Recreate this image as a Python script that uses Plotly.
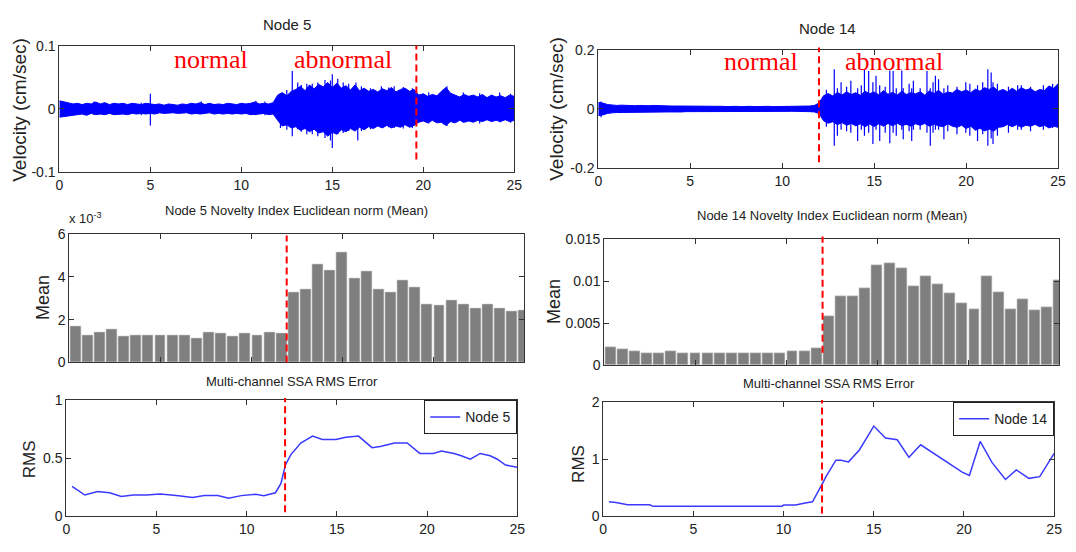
import plotly.graph_objects as go
import numpy as np

W, H = 1076, 552
SANS = "Liberation Sans, Arial, sans-serif"
SERIF = "Liberation Serif, Times New Roman, serif"

# ---------------- data ----------------
# velocity envelopes (cm/sec), sampled every 0.25 s from 0 to 25 s
VEL_STEP = 0.25
n5_upper = [0.013, 0.011, 0.010, 0.008, 0.009, 0.007, 0.009, 0.008, 0.011, 0.008,
            0.010, 0.007, 0.009, 0.008, 0.009, 0.007, 0.009, 0.008, 0.007, 0.009,
            0.008, 0.007, 0.008, 0.006, 0.008, 0.007, 0.006, 0.008, 0.007, 0.009,
            0.008, 0.010, 0.007, 0.009, 0.007, 0.008, 0.007, 0.009, 0.008, 0.007,
            0.009, 0.008, 0.009, 0.011, 0.008, 0.009, 0.008, 0.010,
            0.022, 0.026,
            0.021, 0.028, 0.031, 0.036, 0.029, 0.038, 0.032, 0.039, 0.035, 0.042,
            0.034, 0.041, 0.033, 0.037, 0.030, 0.038, 0.029, 0.033, 0.028, 0.031,
            0.027, 0.032, 0.029, 0.034, 0.027, 0.031, 0.033, 0.028, 0.031, 0.022,
            0.024, 0.020, 0.023, 0.021, 0.028, 0.034, 0.025, 0.022, 0.019, 0.023,
            0.020, 0.022, 0.019, 0.023, 0.018, 0.022, 0.019, 0.021, 0.018, 0.022,
            0.020]
n5_lower = [-0.013, -0.011, -0.011, -0.009, -0.009, -0.008, -0.010, -0.007, -0.009, -0.008,
            -0.009, -0.007, -0.009, -0.008, -0.008, -0.009, -0.007, -0.008, -0.007, -0.008,
            -0.007, -0.008, -0.006, -0.007, -0.007, -0.006, -0.007, -0.007, -0.006, -0.008,
            -0.007, -0.008, -0.007, -0.006, -0.008, -0.007, -0.008, -0.007, -0.008, -0.007,
            -0.008, -0.007, -0.009, -0.008, -0.008, -0.007, -0.009, -0.008,
            -0.018, -0.027,
            -0.025, -0.030, -0.028, -0.034, -0.031, -0.036, -0.032, -0.038, -0.036, -0.043,
            -0.037, -0.040, -0.033, -0.036, -0.031, -0.035, -0.029, -0.033, -0.028, -0.031,
            -0.027, -0.030, -0.026, -0.030, -0.027, -0.029, -0.025, -0.029, -0.026, -0.021,
            -0.019, -0.022, -0.018, -0.022, -0.021, -0.026, -0.020, -0.022, -0.018, -0.021,
            -0.019, -0.021, -0.018, -0.020, -0.017, -0.020, -0.018, -0.020, -0.017, -0.020,
            -0.018]
n5_spike_t = [1.9, 4.5, 5.0, 7.8, 10.8, 11.3, 12.15, 12.5, 12.8, 13.1, 13.3, 13.6, 13.9, 14.2,
              14.6, 14.9, 15.0, 15.3, 15.6, 15.9, 16.3, 16.4, 16.6, 17.1, 17.7, 18.1, 18.4,
              18.9, 19.4, 20.3, 21.1, 21.3, 22.2, 23.1, 24.2, 24.8]
n5_spike_hi = [0.012, 0.010, 0.024, 0.012, 0.013, 0.012, 0.024, 0.030, 0.060, 0.042, 0.038, 0.040,
               0.040, 0.042, 0.046, 0.045, 0.055, 0.048, 0.042, 0.040, 0.042, 0.030, 0.036,
               0.033, 0.036, 0.034, 0.036, 0.035, 0.033, 0.026, 0.030, 0.036, 0.026, 0.025,
               0.026, 0.024]
n5_spike_lo = [-0.009, -0.010, -0.026, -0.008, -0.010, -0.010, -0.030, -0.033, -0.043, -0.032,
               -0.036, -0.040, -0.040, -0.043, -0.046, -0.050, -0.062, -0.040, -0.038, -0.035,
               -0.030, -0.050, -0.035, -0.032, -0.030, -0.029, -0.030, -0.031, -0.030, -0.023,
               -0.024, -0.027, -0.022, -0.023, -0.021, -0.022]

n14_upper = [0.022, 0.020, 0.015, 0.013, 0.012, 0.013, 0.012, 0.012, 0.011, 0.012,
             0.011, 0.011, 0.012, 0.011, 0.010, 0.011, 0.010, 0.010, 0.010, 0.011,
             0.010, 0.009, 0.010, 0.009, 0.009, 0.010, 0.009, 0.009, 0.008, 0.009,
             0.009, 0.008, 0.009, 0.009, 0.008, 0.009, 0.008, 0.009, 0.008, 0.008,
             0.009, 0.008, 0.009, 0.008, 0.009, 0.010, 0.010, 0.012,
             0.020, 0.045,
             0.052, 0.044, 0.056, 0.047, 0.058, 0.049, 0.055, 0.046, 0.060, 0.052,
             0.057, 0.048, 0.062, 0.050, 0.056, 0.047, 0.060, 0.049, 0.055, 0.051,
             0.058, 0.047, 0.061, 0.052, 0.063, 0.050, 0.057, 0.054, 0.066, 0.058,
             0.064, 0.055, 0.067, 0.060, 0.072, 0.066, 0.074, 0.060, 0.066, 0.058,
             0.070, 0.060, 0.072, 0.064, 0.069, 0.058, 0.066, 0.062, 0.078, 0.070,
             0.085]
n14_lower = [-0.022, -0.020, -0.015, -0.013, -0.012, -0.012, -0.012, -0.011, -0.011, -0.011,
             -0.011, -0.010, -0.011, -0.010, -0.010, -0.010, -0.010, -0.009, -0.010, -0.009,
             -0.009, -0.009, -0.009, -0.008, -0.009, -0.008, -0.008, -0.009, -0.008, -0.008,
             -0.008, -0.008, -0.008, -0.008, -0.007, -0.008, -0.008, -0.008, -0.007, -0.008,
             -0.008, -0.008, -0.008, -0.008, -0.008, -0.008, -0.009, -0.010,
             -0.015, -0.040,
             -0.048, -0.043, -0.053, -0.046, -0.055, -0.049, -0.057, -0.050, -0.060, -0.051,
             -0.059, -0.050, -0.058, -0.049, -0.057, -0.048, -0.056, -0.052, -0.058, -0.050,
             -0.055, -0.049, -0.058, -0.051, -0.057, -0.060, -0.050, -0.058, -0.062, -0.055,
             -0.066, -0.058, -0.072, -0.065, -0.074, -0.068, -0.075, -0.062, -0.060, -0.052,
             -0.060, -0.053, -0.062, -0.055, -0.058, -0.052, -0.060, -0.055, -0.064, -0.058,
             -0.062]
n14_spike_t = [0.15, 12.4, 12.83, 13.0, 13.2, 13.5, 13.73, 14.1, 14.3, 14.47, 14.7, 14.93, 15.1,
               15.3, 15.6, 15.85, 16.03, 16.2, 16.5, 16.58, 16.9, 17.04, 17.13, 17.5, 17.87,
               18.05, 18.2, 18.33, 18.5, 18.79, 19.0, 19.5, 19.98, 20.2, 20.62, 20.9, 21.18,
               21.36, 21.46, 21.7, 22.3, 22.8, 23.0, 23.5, 24.2, 24.7]
n14_spike_hi = [0.025, 0.065, 0.134, 0.070, 0.090, 0.075, 0.095, 0.070, 0.080, 0.134, 0.128,
                0.090, 0.112, 0.080, 0.075, 0.130, 0.128, 0.070, 0.130, 0.070, 0.085, 0.070,
                0.095, 0.070, 0.128, 0.070, 0.090, 0.112, 0.100, 0.070, 0.080, 0.075, 0.090,
                0.085, 0.080, 0.090, 0.134, 0.123, 0.090, 0.085, 0.075, 0.080, 0.080, 0.075,
                0.080, 0.085]
n14_spike_lo = [-0.028, -0.060, -0.124, -0.090, -0.070, -0.075, -0.080, -0.108, -0.070, -0.090,
                -0.080, -0.118, -0.070, -0.108, -0.080, -0.116, -0.080, -0.090, -0.070, -0.102,
                -0.075, -0.108, -0.070, -0.070, -0.080, -0.124, -0.080, -0.070, -0.070, -0.102,
                -0.075, -0.085, -0.080, -0.090, -0.108, -0.085, -0.124, -0.100, -0.118, -0.090,
                -0.080, -0.070, -0.070, -0.075, -0.070, -0.064]

# novelty index (mean), one bar per 2/3 s window
BAR_STEP = 2.0 / 3.0
n5_mean_e3 = [1.71, 1.28, 1.43, 1.56, 1.21, 1.28, 1.28, 1.28, 1.28, 1.28, 1.15, 1.43, 1.37,
              1.21, 1.36, 1.28, 1.43, 1.37,
              3.29, 3.41, 4.61, 4.33, 5.16, 3.93, 4.25, 3.41, 3.29, 3.83, 3.50, 2.73, 2.66,
              2.93, 2.73, 2.52, 2.73, 2.52, 2.38, 2.45]   # x 10^-3
n14_mean = [0.0022, 0.0019, 0.0017, 0.0015, 0.0015, 0.0017, 0.0015, 0.0015, 0.0015, 0.0015,
            0.0015, 0.0015, 0.0015, 0.0015, 0.0015, 0.0017, 0.0017, 0.0020,
            0.0059, 0.0082, 0.0082, 0.0092, 0.0119, 0.0121, 0.0116, 0.0094, 0.0106, 0.0096,
            0.0086, 0.0074, 0.0067, 0.0106, 0.0087, 0.0067, 0.0079, 0.0066, 0.0069, 0.0101]

# multi-channel SSA RMS error
rms5_t = [0.32, 1.03, 1.73, 2.4, 3.05, 3.7, 4.45, 5.2, 6.1, 7.0, 7.65, 8.4, 9.0, 9.7, 10.5,
          10.95, 11.6, 11.9, 12.15, 12.45, 13.0, 13.65, 14.2, 14.95, 15.5, 16.2, 16.95, 17.4,
          18.2, 18.9, 19.6, 20.35, 20.8, 21.5, 21.9, 22.4, 22.95, 23.5, 23.9, 24.35, 25.0]
rms5 = [0.256, 0.18, 0.21, 0.2, 0.167, 0.18, 0.18, 0.19, 0.175, 0.158, 0.175, 0.175, 0.153,
        0.175, 0.186, 0.175, 0.2, 0.28, 0.44, 0.53, 0.63, 0.69, 0.66, 0.66, 0.68, 0.69, 0.59,
        0.6, 0.63, 0.63, 0.54, 0.54, 0.56, 0.54, 0.52, 0.49, 0.54, 0.52, 0.49, 0.44, 0.42]
rms14_t = [0.32, 0.7, 1.35, 2.58, 2.76, 9.9, 10.0, 10.66, 11.2, 11.6, 12.16, 12.35, 12.9, 13.2,
           13.6, 14.2, 15.0, 15.65, 16.3, 16.95, 17.6, 19.9, 20.3, 20.9, 21.55, 22.3, 22.9,
           23.6, 24.2, 25.0]
rms14 = [0.246, 0.235, 0.196, 0.196, 0.168, 0.168, 0.19, 0.19, 0.224, 0.246, 0.57, 0.69, 0.98,
         0.98, 0.95, 1.16, 1.58, 1.37, 1.34, 1.03, 1.25, 0.77, 0.71, 1.31, 0.94, 0.64, 0.81,
         0.66, 0.69, 1.1]

# change markers (s)
mark_tl, mark_tr, mark_ml, mark_mr, mark_bl, mark_br = 19.62, 12.0, 11.95, 12.0, 12.13, 12.13

x_ticks = [0, 5, 10, 15, 20, 25]

# ---------------- layout geometry (pixels) ----------------
boxes = {
    1: (56, 516, 39, 169),    # Node 5 velocity
    2: (601, 1066, 43, 165),  # Node 14 velocity
    3: (66, 526, 233, 365),   # Node 5 novelty
    4: (607, 1067, 238, 368), # Node 14 novelty
    5: (63, 519, 404, 523),   # RMS node 5
    6: (606, 1062, 406, 523), # RMS node 14
}


def px(x):
    return x / W


def py(y):
    return 1 - y / H


def sx_(k):
    return "" if k == 1 else str(k)


fig = go.Figure()
BLUE = "#0000ff"


def add_velocity(k, up, lo, st, sh, sl):
    t = [i * VEL_STEP for i in range(len(up))]
    xs = t + t[::-1]
    ys = list(up) + list(lo)[::-1]
    fig.add_trace(go.Scatter(x=xs, y=ys, fill="toself", fillcolor=BLUE, mode="lines",
                             line=dict(color=BLUE, width=1), showlegend=False,
                             xaxis=f"x{sx_(k)}", yaxis=f"y{sx_(k)}", hoverinfo="skip"))
    sx, sy = [], []
    for a, b, c in zip(st, sh, sl):
        sx += [a, a, None]
        sy += [c, b, None]
    fig.add_trace(go.Scatter(x=sx, y=sy, mode="lines", line=dict(color=BLUE, width=1.2),
                             showlegend=False, xaxis=f"x{sx_(k)}", yaxis=f"y{sx_(k)}",
                             hoverinfo="skip"))


add_velocity(1, n5_upper, n5_lower, n5_spike_t, n5_spike_hi, n5_spike_lo)
add_velocity(2, n14_upper, n14_lower, n14_spike_t, n14_spike_hi, n14_spike_lo)

for k, vals in ((3, n5_mean_e3), (4, n14_mean)):
    centers = [(i + 0.5) * BAR_STEP for i in range(len(vals))]
    fig.add_trace(go.Bar(x=centers, y=vals, width=BAR_STEP * 0.9, marker=dict(color="#7f7f7f",
                         line=dict(color="#d8d8d8", width=0.6)), showlegend=False,
                         xaxis=f"x{k}", yaxis=f"y{k}"))

fig.add_trace(go.Scatter(x=rms5_t, y=rms5, mode="lines", name="Node 5",
                         line=dict(color="#3a3aff", width=1.5), xaxis="x5", yaxis="y5",
                         legend="legend"))
fig.add_trace(go.Scatter(x=rms14_t, y=rms14, mode="lines", name="Node 14",
                         line=dict(color="#3a3aff", width=1.5), xaxis="x6", yaxis="y6",
                         legend="legend2"))

tickfont = dict(family=SANS, size=14, color="#222")
axis_common = dict(showline=True, linecolor="#333", linewidth=1, mirror="ticks", ticks="inside",
                   ticklen=5, tickcolor="#333", showgrid=False, zeroline=False, tickfont=tickfont)

yspec = {
    1: dict(range=[-0.1, 0.1], tickvals=[-0.1, 0, 0.1], ticktext=["-0.1", "0", "0.1"]),
    2: dict(range=[-0.2, 0.2], tickvals=[-0.2, 0, 0.2], ticktext=["-0.2", "0", "0.2"]),
    3: dict(range=[0, 6], tickvals=[0, 2, 4, 6], ticktext=["0", "2", "4", "6"]),
    4: dict(range=[0, 0.015], tickvals=[0, 0.005, 0.01, 0.015],
            ticktext=["0", "0.005", "0.01", "0.015"]),
    5: dict(range=[0, 1], tickvals=[0, 0.5, 1], ticktext=["0", "0.5", "1"]),
    6: dict(range=[0, 2], tickvals=[0, 1, 2], ticktext=["0", "1", "2"]),
}

layout = dict(width=W, height=H, autosize=False, margin=dict(l=0, r=0, t=0, b=0),
              paper_bgcolor="white", plot_bgcolor="white", bargap=0)
for k, (x0, x1, y0, y1) in boxes.items():
    xa = dict(axis_common, domain=[px(x0), px(x1)], range=[0, 25], tickvals=x_ticks,
              ticktext=[str(v) for v in x_ticks], anchor=f"y{sx_(k)}")
    if k in (3, 4):
        xa["showticklabels"] = False
    ya = dict(axis_common, domain=[py(y1), py(y0)], anchor=f"x{sx_(k)}", **yspec[k])
    layout[f"xaxis{sx_(k)}"] = xa
    layout[f"yaxis{sx_(k)}"] = ya

legfont = dict(family=SANS, size=14, color="#222")
layout["legend"] = dict(x=px(519), y=py(404), xanchor="right", yanchor="top", bgcolor="white",
                        bordercolor="#222", borderwidth=1, font=legfont)
layout["legend2"] = dict(x=px(1062), y=py(406), xanchor="right", yanchor="top", bgcolor="white",
                         bordercolor="#222", borderwidth=1, font=legfont)
fig.update_layout(**layout)

# dashed change markers
for k, xm, ylo, yhi in ((1, mark_tl, 0.1, 1.0), (2, mark_tr, 0.05, 1.02), (3, mark_ml, 0.0, 0.99),
                        (4, mark_mr, 0.1, 1.02), (5, mark_bl, 0.03, 1.02), (6, mark_br, 0.02, 1.02)):
    fig.add_shape(type="line", xref=f"x{sx_(k)}", yref=f"y{sx_(k)} domain", x0=xm, x1=xm,
                  y0=ylo, y1=yhi, line=dict(color="#ff0000", width=2, dash="7px,4px"))

ann = [
    ("Node 5", 286, 17, 15), ("Node 14", 833, 21, 15),
    ("Node 5 Novelty Index Euclidean norm (Mean)", 296, 209, 13),
    ("Node 14 Novelty Index Euclidean norm (Mean)", 837, 214, 13),
    ("Multi-channel SSA RMS Error", 291, 385, 13),
    ("Multi-channel SSA RMS Error", 834, 387, 13),
]
for text, x, y, s in ann:
    fig.add_annotation(text=text, x=px(x), y=py(y), xref="paper", yref="paper", showarrow=False,
                       font=dict(family=SANS, size=s, color="#222"),
                       xanchor="center", yanchor="middle")

ylab = [("Velocity (cm/sec)", 16, 105, 19), ("Velocity (cm/sec)", 559, 104, 19),
        ("Mean", 40, 298, 18), ("Mean", 556, 302, 18), ("RMS", 26, 465, 17),
        ("RMS", 581, 470, 17)]
for text, x, y, s in ylab:
    fig.add_annotation(text=text, x=px(x), y=py(y), xref="paper", yref="paper", showarrow=False,
                       textangle=-90, font=dict(family=SANS, size=s, color="#222"),
                       xanchor="center", yanchor="middle")

fig.add_annotation(text="x 10<sup>-3</sup>", x=px(64), y=py(216), xref="paper", yref="paper",
                   showarrow=False, font=dict(family=SANS, size=13, color="#222"),
                   xanchor="left", yanchor="middle")

for text, x, y in (("normal", 209, 53), ("abnormal", 343, 53), ("normal", 766, 55),
                   ("abnormal", 900, 55)):
    fig.add_annotation(text=text, x=px(x), y=py(y), xref="paper", yref="paper", showarrow=False,
                       font=dict(family=SERIF, size=26, color="#ff0000"),
                       xanchor="center", yanchor="middle")

fig.write_html("out.html")
